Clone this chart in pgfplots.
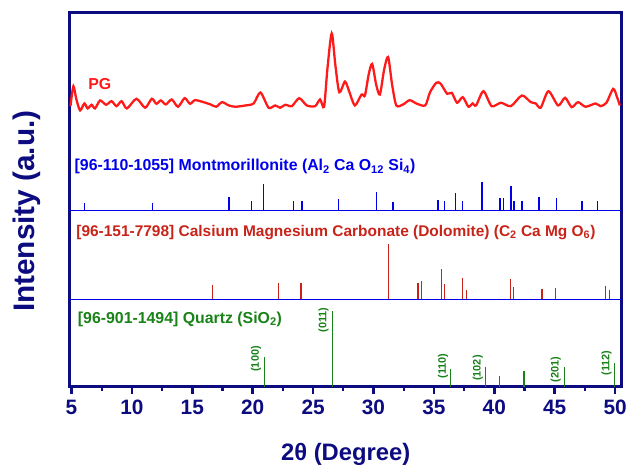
\documentclass[border=0pt]{standalone}
\usepackage{fontspec}
\setmainfont{Liberation Sans}
\usepackage{pgfplots}
\pgfplotsset{compat=1.18}
\definecolor{navy}{RGB}{12,12,128}
\definecolor{mblue}{RGB}{0,0,235}
\definecolor{dred}{RGB}{200,35,25}
\definecolor{qgreen}{RGB}{25,130,25}
\definecolor{pgred}{RGB}{255,25,25}
\begin{document}
\begin{tikzpicture}
\path (0bp,0bp) rectangle (630bp,470bp);
\begin{axis}[
  at={(70bp,81bp)}, anchor=south west,
  scale only axis, width=555bp, height=376bp,
  xmin=4.85, xmax=50.55, ymin=0, ymax=376,
  clip=false,
  axis line style={line width=3pt, draw=navy},
  xtick={5,10,...,50}, minor x tick num=1,
  ytick=\empty,
  tick align=outside, xtick pos=bottom,
  major tick length=7bp, minor tick length=4bp,
  major tick style={line width=2.6pt, draw=navy},
  minor tick style={line width=2.2pt, draw=navy},
  /pgf/number format/assume math mode=true,
  xticklabel style={font=\fontsize{21}{21}\selectfont\bfseries, text=navy, yshift=-3bp},
  xlabel={2θ (Degree)},
  xlabel style={font=\fontsize{24}{24}\selectfont\bfseries, text=navy, at={(axis description cs:0.5,-0.18)}, anchor=center},
  ylabel={Intensity (a.u.)},
  ylabel style={font=\fontsize{30}{30}\selectfont\bfseries, text=navy, at={(axis description cs:-0.078,0.47)}, anchor=center, rotate=0},
]
% PG pattern
\addplot[pgred, line width=2.3pt, smooth, tension=0.45] coordinates {
(4.92,282.3) (5.16,302.3) (5.41,289) (5.72,278) (6.07,285) (6.34,280) (6.67,283.7) (6.95,280)
(7.37,288) (7.86,283.7) (8.32,287.3) (8.73,282.3) (9.15,287.3) (9.59,280) (10.38,289.7)
(11.10,280.7) (11.65,289.7) (12.03,284.7) (12.39,288) (12.81,284) (13.30,289) (13.82,281.7)
(14.37,290.3) (14.81,284.7) (15.22,288.3) (15.82,286.7) (16.51,284) (16.98,281.7) (17.47,286.3)
(18.02,283) (18.57,281.7) (19.40,283) (20.08,285) (20.64,296) (21.32,280.7) (21.87,283)
(22.28,280.7) (22.70,283.7) (23.24,282.3) (23.85,290.3) (24.48,283) (25.17,282.3) (25.58,289)
(25.91,281.7) (26.18,319) (26.54,355.5) (26.84,324) (27.17,296.3) (27.64,307) (27.99,297)
(28.46,283) (29.01,294) (29.29,293) (29.60,314) (29.89,324.7) (30.22,304) (30.53,294)
(30.88,319) (31.21,331.7) (31.54,304) (31.89,283) (32.45,284) (33.00,288.3) (33.54,285)
(34.28,283) (34.67,296) (35.19,305.7) (35.55,305) (36.10,294.7) (36.48,295.7) (36.92,285.7)
(37.39,291.3) (37.86,281.7) (38.21,285) (38.49,283) (39.10,297.3) (39.78,282.3) (40.55,285.7)
(41.37,282.3) (42.28,293) (43.02,286.3) (43.43,285) (43.84,280.7) (44.48,297.3) (45.28,283)
(45.86,290.7) (46.40,281.3) (46.93,286.3) (47.55,281.7) (48.38,285) (48.79,282.3) (49.28,285.7)
(49.84,299.7) (50.17,291) (50.39,283)
};
% divider lines
\addplot[mblue, line width=1.3pt] coordinates {(4.85,177.3) (50.55,177.3)};
\addplot[mblue, line width=1.1pt] coordinates {(4.85,88) (50.55,88)};
% Montmorillonite sticks
\addplot[mblue, line width=1.5pt, -, quiver={u=0, v=\thisrow{h}}] table {
x y h
6.1 177.3 7.7
11.7 177.3 7.7
18.05 177.3 13.3
19.9 177.3 9.3
20.88 177.3 26.7
23.4 177.3 9.3
24.1 177.3 9.3
27.1 177.3 11.7
30.25 177.3 19
31.63 177.3 8.3
35.34 177.3 11
35.89 177.3 9.3
36.8 177.3 17.3
37.37 177.3 9.3
38.97 177.3 29
40.47 177.3 13
40.75 177.3 13
41.38 177.3 24.3
41.65 177.3 9.3
42.28 177.3 9.3
43.69 177.3 14
45.15 177.3 13
47.27 177.3 9.3
48.53 177.3 9.3
};
% Dolomite sticks
\addplot[dred, line width=1.2pt, -, quiver={u=0, v=\thisrow{h}}] table {
x y h
16.7 88 15
22.15 88 16.7
24.0 88 16.7
31.27 88 56
33.69 88 16.7
34.0 88 18.7
35.6 88 31
35.9 88 16
37.4 88 21.7
37.7 88 9.3
41.36 88 20.3
41.6 88 12
43.94 88 10.3
45.07 88 11
49.2 88 14
49.54 88 9
};
% Quartz sticks
\addplot[qgreen, line width=1.5pt, -, quiver={u=0, v=\thisrow{h}}] table {
x y h
20.99 0 30
26.6 0 76.3
36.38 0 18.3
39.27 0 20.3
40.45 0 10.7
42.45 0 15.7
45.8 0 19.7
49.95 0 23.7
};
% labels
\node[text=pgred, font=\fontsize{16}{16}\selectfont\bfseries, anchor=center] at (axis cs:7.35,305) {PG};
\node[text=mblue, font=\fontsize{16}{16}\selectfont\bfseries, anchor=base west, inner sep=0pt] at (axis cs:5.25,217.3) {[96-110-1055] Montmorillonite (Al\textsubscript{2} Ca O\textsubscript{12} Si\textsubscript{4})};
\node[text=dred, font=\fontsize{15.6}{15.6}\selectfont\bfseries, anchor=base west, inner sep=0pt] at (axis cs:5.39,151.7) {[96-151-7798] Calsium Magnesium Carbonate (Dolomite) (C\textsubscript{2} Ca Mg O\textsubscript{6})};
\node[text=qgreen, font=\fontsize{16}{16}\selectfont\bfseries, anchor=base west, inner sep=0pt] at (axis cs:5.52,64) {[96-901-1494] Quartz (SiO\textsubscript{2})};
\begin{scope}[every node/.style={text=qgreen, font=\fontsize{11}{11}\selectfont\bfseries, rotate=90, anchor=center, inner sep=0pt}]
\node at (axis cs:20.28,28.2) {(100)};
\node at (axis cs:25.86,67.5) {(011)};
\node at (axis cs:35.75,21) {(110)};
\node at (axis cs:38.64,19) {(102)};
\node at (axis cs:45.09,17.3) {(201)};
\node at (axis cs:49.3,24) {(112)};
\end{scope}
\end{axis}
\end{tikzpicture}
\end{document}
